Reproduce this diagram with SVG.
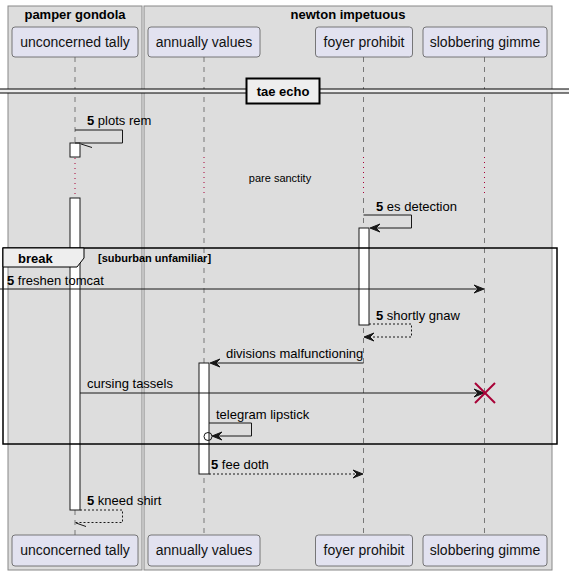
<svg xmlns="http://www.w3.org/2000/svg" width="573" height="576" viewBox="0 0 573 576">
<style>
text{font-family:"Liberation Sans",Arial,sans-serif;fill:#000}
.grp{fill:#DDDDDD;stroke:#888888;stroke-width:1}
.gt{font-size:13px;font-weight:bold;text-anchor:middle}
.part{fill:#E2E2F0;stroke:#5A5A5A;stroke-width:0.8}
.pt{font-size:14px;text-anchor:middle;fill:#111}
.life{stroke:#333;stroke-width:0.6;stroke-dasharray:5,5;fill:none}
.delay{stroke:#A80036;stroke-width:1;stroke-dasharray:1,4;fill:none}
.act{fill:#FFFFFF;stroke:#181818;stroke-width:1}
.msg{stroke:#181818;stroke-width:1;fill:none}
.ret{stroke:#181818;stroke-width:1;fill:none;stroke-dasharray:2,2}
.ah{fill:#181818;stroke:#181818;stroke-width:1}
.mt{font-size:13px}
.num{font-weight:bold}
</style>
<g id="box-pamper-gondola">
<rect class="grp" x="8" y="6" width="134" height="564"/>
<text class="gt" x="75" y="19">pamper gondola</text>
</g>
<g id="box-newton-impetuous">
<rect class="grp" x="144" y="6" width="408" height="564"/>
<text class="gt" x="348" y="19">newton impetuous</text>
</g>
<g id="lifelines">
<line class="life" x1="75" y1="57" x2="75" y2="143"/>
<line class="delay" x1="75" y1="158" x2="75" y2="198"/>
<line class="life" x1="75" y1="510" x2="75" y2="535"/>
<line class="life" x1="204" y1="57" x2="204" y2="156"/>
<line class="delay" x1="204" y1="157" x2="204" y2="197"/>
<line class="life" x1="204" y1="198" x2="204" y2="535"/>
<line class="life" x1="363.5" y1="57" x2="363.5" y2="156"/>
<line class="delay" x1="363.5" y1="157" x2="363.5" y2="197"/>
<line class="life" x1="363.5" y1="198" x2="363.5" y2="535"/>
<line class="life" x1="484.5" y1="57" x2="484.5" y2="156"/>
<line class="delay" x1="484.5" y1="157" x2="484.5" y2="197"/>
<line class="life" x1="484.5" y1="198" x2="484.5" y2="535"/>
</g>
<g id="unconcerned-tally">
<rect class="part" x="12" y="27" width="126" height="30" rx="3"/>
<text class="pt" x="75" y="47">unconcerned tally</text>
<rect class="part" x="12" y="535" width="126" height="31" rx="3"/>
<text class="pt" x="75" y="555">unconcerned tally</text>
</g>
<g id="annually-values">
<rect class="part" x="148" y="27" width="112" height="30" rx="3"/>
<text class="pt" x="204" y="47">annually values</text>
<rect class="part" x="148" y="535" width="112" height="31" rx="3"/>
<text class="pt" x="204" y="555">annually values</text>
</g>
<g id="foyer-prohibit">
<rect class="part" x="315.5" y="27" width="97" height="30" rx="3"/>
<text class="pt" x="364" y="47">foyer prohibit</text>
<rect class="part" x="315.5" y="535" width="97" height="31" rx="3"/>
<text class="pt" x="364" y="555">foyer prohibit</text>
</g>
<g id="slobbering-gimme">
<rect class="part" x="423" y="27" width="124" height="30" rx="3"/>
<text class="pt" x="485" y="47">slobbering gimme</text>
<rect class="part" x="423" y="535" width="124" height="31" rx="3"/>
<text class="pt" x="485" y="555">slobbering gimme</text>
</g>
<g id="divider-tae-echo">
<rect x="0" y="89" width="569" height="4" fill="#EEEEEE"/>
<line x1="0" y1="89" x2="569" y2="89" stroke="#000" stroke-width="1"/>
<line x1="0" y1="93" x2="569" y2="93" stroke="#000" stroke-width="1"/>
<rect x="246.5" y="78.5" width="73" height="25" fill="#EEEEEE" stroke="#000" stroke-width="2"/>
<text x="283" y="95.5" font-size="13" font-weight="bold" text-anchor="middle">tae echo</text>
</g>
<g id="activations">
<rect class="act" x="70" y="143" width="10" height="14"/>
<rect class="act" x="70" y="198" width="10" height="312"/>
<rect class="act" x="359" y="228" width="10" height="97"/>
<rect class="act" x="199" y="363" width="10" height="111"/>
</g>
<g id="delay-pare-sanctity">
<text x="280" y="182" font-size="11" text-anchor="middle">pare sanctity</text>
</g>
<g id="break-frame">
<rect x="3" y="248" width="554" height="196" fill="none" stroke="#000" stroke-width="1.5"/>
<path d="M3,248 L84,248 L84,258 L77,267 L3,267 Z" fill="#EEEEEE" stroke="#000" stroke-width="1"/>
<text x="18" y="262.5" font-size="13" font-weight="bold">break</text>
<text x="98" y="262" font-size="11" font-weight="bold">[suburban unfamiliar]</text>
</g>
<g id="connectors">
<g id="msg-plots-rem">
<polyline class="msg" points="75,130 122.5,130 122.5,143 75,143"/>
<line class="msg" x1="81" y1="144" x2="92" y2="147.5"/>
<text class="mt" x="87" y="125"><tspan class="num">5</tspan> plots rem</text>
</g>
<g id="msg-es-detection">
<polyline class="msg" points="363.5,215 411.5,215 411.5,228 371,228"/>
<polygon class="ah" points="370,228 380,224 376,228 380,232"/>
<text class="mt" x="376" y="211"><tspan class="num">5</tspan> es detection</text>
</g>
<g id="msg-freshen-tomcat">
<line class="msg" x1="0" y1="289" x2="483" y2="289"/>
<polygon class="ah" points="484,289 474,285 478,289 474,293"/>
<text class="mt" x="7" y="284.5"><tspan class="num">5</tspan> freshen tomcat</text>
</g>
<g id="msg-shortly-gnaw">
<polyline class="ret" points="369,324 411.5,324 411.5,337 365,337"/>
<polygon class="ah" points="364,337 374,333 370,337 374,341"/>
<text class="mt" x="376" y="320"><tspan class="num">5</tspan> shortly gnaw</text>
</g>
<g id="msg-divisions-malfunctioning">
<line class="msg" x1="363.5" y1="363" x2="211" y2="363"/>
<polygon class="ah" points="210,363 220,359 216,363 220,367"/>
<text class="mt" x="226" y="358">divisions malfunctioning</text>
</g>
<g id="msg-cursing-tassels">
<line class="msg" x1="80" y1="393" x2="483" y2="393"/>
<polygon class="ah" points="484,393 474,389 478,393 474,397"/>
<text class="mt" x="87" y="388">cursing tassels</text>
<line x1="475" y1="383" x2="495" y2="403" stroke="#A80036" stroke-width="2"/>
<line x1="495" y1="383" x2="475" y2="403" stroke="#A80036" stroke-width="2"/>
</g>
<g id="msg-telegram-lipstick">
<polyline class="msg" points="209,423 251.5,423 251.5,436 213,436"/>
<polygon class="ah" points="212,436 222,432 218,436 222,440"/>
<circle cx="208" cy="436.5" r="4" fill="none" stroke="#181818" stroke-width="1"/>
<text class="mt" x="216" y="418.5">telegram lipstick</text>
</g>
<g id="msg-fee-doth">
<line class="ret" x1="209" y1="474" x2="362" y2="474"/>
<polygon class="ah" points="363,474 353,470 357,474 353,478"/>
<text class="mt" x="211" y="469"><tspan class="num">5</tspan> fee doth</text>
</g>
<g id="msg-kneed-shirt">
<polyline class="ret" points="80,510 122.5,510 122.5,522.5 75,522.5"/>
<line class="msg" x1="76" y1="523" x2="86" y2="526.5"/>
<text class="mt" x="87" y="505"><tspan class="num">5</tspan> kneed shirt</text>
</g>
</g>
</svg>
